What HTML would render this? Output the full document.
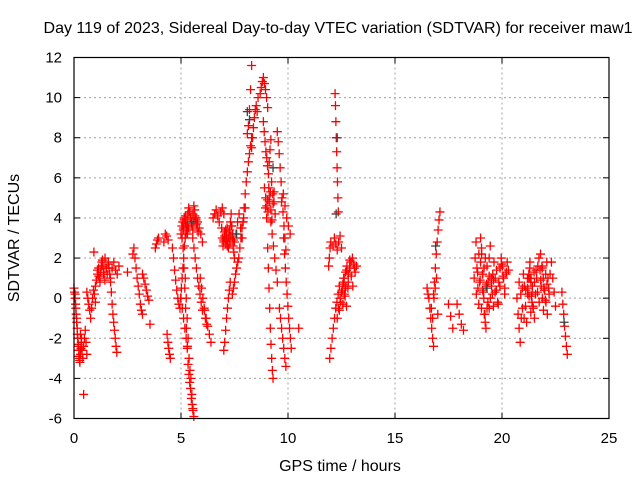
<!DOCTYPE html>
<html><head><meta charset="utf-8"><style>
html,body{margin:0;padding:0;background:#fff}
svg text{font-family:"Liberation Sans",sans-serif;fill:#000}
</style></head><body>
<svg id="c" width="640" height="480" xmlns="http://www.w3.org/2000/svg">
<rect width="640" height="480" fill="#fff"/>
<text x="338" y="33" font-size="16" text-anchor="middle">Day 119 of 2023, Sidereal Day-to-day VTEC variation (SDTVAR) for receiver maw1</text>
<text x="340" y="471" font-size="16" text-anchor="middle">GPS time / hours</text>
<text transform="translate(19,238) rotate(-90)" font-size="16" text-anchor="middle">SDTVAR / TECUs</text>
<g id="grid"></g><g id="marks"></g>
<rect x="74" y="57.5" width="535" height="361" fill="none" stroke="#000" stroke-width="1.2"/>
</svg>
<script>
const xTicks=[0,5,10,15,20,25];
const yTicks=[-6,-4,-2,0,2,4,6,8,10,12];
const tracks=[
[0.0,0.35,[0.5,0.3,0,-0.3,-0.8,-1.2,-1.5,-2,-2.3,-2.6,-3,-3.2,-2.8,-2.5,-2]],
[0.05,0.3,[0.2,-0.5,-1.0,-1.8,-2.4,-2.9,-3.1,-2.6]],
[0.3,0.6,[-1.8,-2.2,-2.6,-3.0,-2.4,-2.0,-1.6,-2.2,-2.8]],
[0.45,0.45,[-4.8]],
[0.6,1.0,[0.3,0,-0.3,-0.6,-1,-0.5,0,0.4,0.2,-0.2]],
[0.93,0.93,[2.3]],
[1.0,1.6,[0.6,0.9,1.2,1.5,1.0,1.3,1.8,1.6,1.3,2.0,1.5,1.2,1.7]],
[1.1,1.5,[1.4,1.1,0.8,1.6,1.9,1.2,0.9,1.5]],
[1.6,2.0,[1.8,1.5,1.2,0.8,0.3,-0.3,-0.8,-1.2,-1.6,-2.0,-2.4,-2.7]],
[1.7,2.1,[1.0,1.5,1.8,1.4,1.2,1.6]],
[2.5,2.5,[1.3]],
[2.75,3.2,[2.2,2.5,2.0,1.5,1.0,0.6,0.2,-0.3,-0.6,-0.8]],
[3.2,3.5,[1.2,1.0,0.7,0.4,0.1,-0.1]],
[3.55,3.55,[-1.3]],
[3.8,3.95,[2.5,2.7,2.9,3.0]],
[4.2,4.4,[2.8,3.2,3.1,2.9]],
[4.35,4.5,[-1.8,-2.2,-2.5,-2.8,-3.0]],
[4.6,4.9,[2.5,2.0,1.4,0.9,0.4,0.0,-0.3]],
[4.95,5.3,[-0.5,0,0.5,1,1.5,2,2.6,3.0,3.2,3.4,3.6]],
[5.0,5.8,[3.2,3.6,3.8,3.5,4.0,3.7,3.3,3.9,4.2,4.5,4.3,4.0,3.8,3.6,4.2,4.6,4.4,4.0,3.7,3.5,3.3]],
[5.05,5.7,[3.0,3.4,3.9,4.1,3.6,3.2,3.5,4.3,4.0,3.7,3.4,3.8,4.1,3.9]],
[5.1,5.6,[2.5,1.5,0.5,-0.5,-1.5,-2.5,-3.3,-3.8,-4.2,-4.5,-5.0,-5.3,-5.6,-5.9]],
[5.2,5.55,[1.0,0,-1.0,-2.0,-3.0,-3.6,-4.0,-4.8,-5.5]],
[5.0,5.3,[0,-0.5,-1,-1.5,-2.0,-2.4]],
[5.55,6.0,[3.0,2.5,2.0,1.5,1.0,0.6,0.2,-0.2,-0.6]],
[5.9,6.2,[1.0,0.5,0,-0.5,-1.0,-1.3]],
[6.1,6.4,[-0.6,-1.0,-1.4,-1.8,-2.2]],
[5.7,6.0,[4.0,3.8,3.5,3.2,2.8]],
[6.5,7.0,[4.0,4.2,4.4,4.1,3.8,4.3,4.5,4.2]],
[6.9,7.5,[3.5,3.0,2.6,2.9,3.3,3.0,2.7,3.2,3.5,2.8,2.5,3.0,3.4,3.8,4.2,3.6,3.0,2.6,2.3,2.0]],
[7.0,7.45,[2.8,3.1,3.4,2.9,2.6,3.0,3.3,2.7,3.1,3.6,3.2,2.9]],
[7.0,7.3,[-2.6,-2.2,-1.6,-1.0,-0.5,0,0.4,0.8]],
[7.4,7.9,[0.2,0.5,0.8,1.2,1.5,1.8,2.0,2.5,3.0,3.5,3.8]],
[7.5,8.0,[2.8,3.2,3.8,4.2,3.5,3.0,4.0,4.5]],
[7.9,8.3,[3.8,4.5,5.2,5.8,6.3,6.8,7.2,7.6,8.0]],
[8.1,8.3,[8.2,8.6,9.4,10.4,11.6]],
[8.3,8.6,[7.5,8,8.5,9,9.4,9.6,9.3,10.0]],
[8.7,9.05,[10.2,10.5,10.8,11,10.7,10.4,10.0,9.5]],
[8.85,9.2,[8.8,8.3,7.8,7.3,7.0,6.6,6.2,6.8,7.4,7.9]],
[8.9,9.4,[5.5,5.0,4.6,4.3,4.8,5.3,5.8,5.2,4.8,4.2]],
[8.95,9.35,[4.5,4.0,4.9,5.5,5.1,4.4,3.9,4.7,5.3]],
[9.05,9.3,[2.5,1.5,0.5,-0.5,-1.5,-2.3,-3.0,-3.6,-4.0]],
[9.2,9.5,[3.8,3.2,2.6,2.0,1.4,0.8]],
[9.5,9.9,[8.3,7.8,7.2,6.5,5.8,5.0,4.3,3.6,3.0,2.4]],
[9.8,10.15,[3.0,2.2,1.5,0.8,0.2,-0.4,-1.0,-1.5,-2.0,-2.5]],
[9.7,10.1,[4.8,5.2,4.6,4.0,3.6,3.2]],
[9.6,9.9,[-0.5,-1.0,-1.5,-2.0,-2.5,-3.0,-3.4]],
[10.5,10.5,[-1.5]],
[11.9,12.0,[1.6,2.0,2.5,2.8]],
[12.2,12.35,[10.2,9.6,8.8,8.0,7.3,6.5,5.8,5.0,4.3]],
[12.1,12.5,[2.6,3.0,2.7,2.4,2.8,3.1,2.5]],
[11.95,12.4,[-3.0,-2.5,-2.0,-1.5,-1.0,-0.5,-0.2,0.2,0.6]],
[12.3,12.7,[-1.0,-0.5,0,0.3,-0.3,0.2,0.6]],
[12.4,12.8,[-0.6,-0.2,0.4,0.8,0.1,-0.4,0.5]],
[12.5,13.2,[0.3,0.7,1.0,1.3,1.6,1.2,1.5,1.8,2.0,1.7,1.3,1.6]],
[12.6,13.1,[1.0,0.5,1.4,0.8,1.9,1.1,0.6,1.5]],
[16.5,16.8,[0.5,0.2,0,-0.5,-1.0,-1.5,-2.0,-2.4]],
[16.8,17.1,[0.2,0.8,1.5,2.2,2.8,3.4,3.9,4.3]],
[16.7,17.0,[-0.5,-1.0,0,0.5,1.0,-0.8]],
[17.5,17.7,[-0.3,-0.9,-1.5]],
[17.9,18.2,[-0.3,-0.8,-1.3,-1.6]],
[18.7,19.3,[1.0,2.0,2.8,1.5,0.5,-0.3,0.8,1.8,2.5,1.2,0.3,-0.8,-1.2,0.6,1.6]],
[18.8,19.4,[0.2,1.3,2.2,0.9,-0.5,0.4,1.5,2.0,0.7,-0.2,1.1]],
[19.0,19.6,[3.0,2.2,1.2,0,-0.8,-1.5,-0.5,0.8,2.0,2.6,1.0,0.2,-0.4]],
[19.4,20.3,[-0.5,0,0.6,1.2,1.8,1.0,0.4,-0.2,0.8,1.5,2.0,1.6,1.0,0.5,1.2,1.8,1.4]],
[19.6,20.2,[0.9,0.3,1.4,-0.3,0.6,1.7,1.1,0.2,1.3]],
[20.7,21.4,[0,-0.8,-1.5,-2.2,-1.0,0.5,1.2,0.6,-0.4,-1.2,0.2,1.0,1.5,0.8,-0.2]],
[20.8,21.5,[0.8,0.2,-0.5,-1.0,0.4,1.0,0.1,-0.7,0.6,1.3]],
[21.2,22.2,[0.5,1.2,1.8,1.0,0.3,-0.5,-1.0,0.2,1.0,1.6,2.0,1.4,0.6,0,-0.6,0.4,1.2,1.8,1.0,0.2]],
[21.3,22.1,[1.0,0.1,-0.4,0.8,1.4,0.3,-0.2,0.9,1.5,0.5,-0.1,0.7]],
[21.8,22.5,[2.2,1.6,1.0,0.4,-0.2,-0.8,0.5,1.2,1.8,1.0,0.3,-0.4]],
[22.8,23.05,[0.3,-0.3,-0.8,-1.4,-1.9,-2.4,-2.8]]
];
const grayT=[8.1,8.2,12.3,16.9,22.9,19.3,7.6,5.5,9.3,12.25];
const grayV=[9.3,8.9,8.0,2.6,-1.2,0.5,3.2,3.8,6.5,4.2];

const X0=74,X1=609,Y0=418.5,Y1=57.5;
function sx(t){return X0+(t-0)/(25-0)*(X1-X0);}
function sy(v){return Y0-(v-(-6))/(12-(-6))*(Y0-Y1);}
const NS="http://www.w3.org/2000/svg";
const grid=document.getElementById('grid'),marks=document.getElementById('marks');
function mk(tag,attrs,parent){const e=document.createElementNS(NS,tag);for(const k in attrs)e.setAttribute(k,attrs[k]);parent.appendChild(e);return e;}
xTicks.forEach(t=>{
  const x=sx(t);
  if(t>0&&t<25){const g=mk('line',{x1:x,x2:x,y1:Y1,y2:Y0,stroke:'#a0a0a0','stroke-dasharray':'2,3'},grid);
  
  }
  mk('line',{x1:x,x2:x,y1:Y0,y2:Y0-6,stroke:'#000'},grid);
  mk('line',{x1:x,x2:x,y1:Y1,y2:Y1+6,stroke:'#000'},grid);
  const l=mk('text',{x:x,y:443,'font-size':15,'text-anchor':'middle'},grid);l.textContent=t;
  
  
});
yTicks.forEach(v=>{
  const y=sy(v);
  if(v>-6&&v<12){const g=mk('line',{x1:X0,x2:X1,y1:y,y2:y,stroke:'#a0a0a0','stroke-dasharray':'2,3'},grid);
  
  }
  mk('line',{x1:X0,x2:X0+6,y1:y,y2:y,stroke:'#000'},grid);
  mk('line',{x1:X1,x2:X1-6,y1:y,y2:y,stroke:'#000'},grid);
  const l=mk('text',{x:62,y:y+5,'font-size':15,'text-anchor':'end'},grid);l.textContent=v;
  
  
});
function plus(t,v,col){
  const x=sx(t),y=sy(v);
  return mk('path',{d:`M${x-4.5},${y}h9M${x},${y-4.5}v9`,stroke:col,'stroke-width':1.3,fill:'none'},marks);
}
tracks.forEach(tr=>{
  const [t0,t1,vals]=tr;const n=vals.length;
  vals.forEach((v,i)=>{
    const t=n>1?t0+(t1-t0)*i/(n-1):t0;
    const p=plus(t,v,'#ff0000');
    
    
  });
});
grayT.forEach((t,i)=>{
  const p=plus(t,grayV[i],'#404040');
  
  
});
</script>
</body></html>
